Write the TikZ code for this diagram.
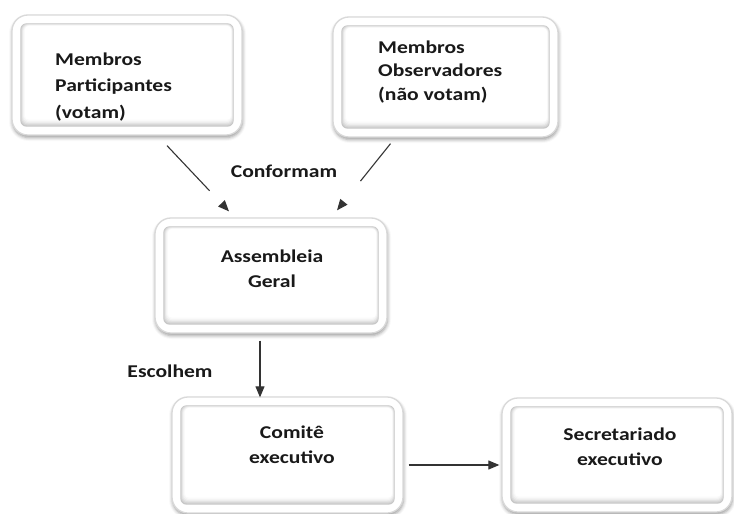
\documentclass[tikz,border=0pt]{standalone}
\usepackage{fontspec}
\setmainfont{Carlito}[FakeStretch=1.2]
\usetikzlibrary{arrows.meta,shadows.blur}

\tikzset{
  boxouter/.style={draw=gray!30, line width=1.3pt, fill=white, rounded corners=16pt,
    inner sep=0pt,
    blur shadow={shadow xshift=0.5pt, shadow yshift=-2.5pt, shadow blur radius=3.5pt, shadow opacity=40}},
  lbl/.style={inner sep=0pt, text=black!90, font=\bfseries},
  conn/.style={draw=black!80, line width=1.1pt, -{Triangle[length=11pt,width=9pt]}},
}

% rounded bevelled box: name, centre, width, height
\newcommand\bevelbox[4]{%
  \node[boxouter, minimum width=#3, minimum height=#4] (#1) at #2 {};
  \foreach \k/\c in {0/45,1/34,2/24,3/16,4/9,5/4}{%
    \fill[gray!\c, rounded corners=6pt]
      ([shift={({9+\k*0.7},{9+\k*0.4})}]#1.north west) rectangle
      ([shift={({-9-\k*0.4},{-9-\k*1.1})}]#1.south east);
  }
  \fill[white, rounded corners=4pt]
    ([shift={(13.5,11.5)}]#1.north west) rectangle ([shift={(-11.5,-16)}]#1.south east);
}

\begin{document}
\begin{tikzpicture}[x=1pt, y=-1pt]
  \useasboundingbox (0,0) rectangle (734,514);

  % boxes
  \bevelbox{P}{(127,75)}{230pt}{120pt}
  \bevelbox{O}{(445.5,77)}{225pt}{120pt}
  \bevelbox{A}{(271,275.5)}{232pt}{115pt}
  \bevelbox{C}{(287.5,455)}{231pt}{116pt}
  \bevelbox{S}{(617,455)}{230pt}{114pt}

  % box texts
  \node[lbl, anchor=base west] (tP) at (55,65)
    {\fontsize{18}{26.5}\selectfont\begin{tabular}[t]{@{}l@{}}Membros\\Participantes\\(votam)\end{tabular}};
  \node[lbl, anchor=base west] (tO) at (378,53)
    {\fontsize{18}{23.5}\selectfont\begin{tabular}[t]{@{}l@{}}Membros\\Observadores\\(não votam)\end{tabular}};
  \node[lbl, anchor=base] (tA) at (272,262)
    {\fontsize{18}{25}\selectfont\begin{tabular}[t]{@{}c@{}}Assembleia\\Geral\end{tabular}};
  \node[lbl, anchor=base] (tC) at (292,438)
    {\fontsize{18}{25}\selectfont\begin{tabular}[t]{@{}c@{}}Comitê\\executivo\end{tabular}};
  \node[lbl, anchor=base] (tS) at (620,440)
    {\fontsize{18}{25}\selectfont\begin{tabular}[t]{@{}c@{}}Secretariado\\executivo\end{tabular}};

  % connector labels
  \node[lbl, anchor=base] (lConf) at (284,177) {\fontsize{18}{22}\selectfont Conformam};
  \node[lbl, anchor=base] (lEsc) at (170,377) {\fontsize{18}{22}\selectfont Escolhem};

  % connectors
  \draw[conn, dash pattern=on 62pt off 60pt]
    ([shift={(40,10)}]P.south) -- ([shift={(-42,-6)}]A.north);
  \draw[conn, dash pattern=on 48pt off 60pt]
    ([shift={(-55,6)}]O.south) -- ([shift={(66,-7)}]A.north);
  \draw[conn] ([shift={(-11,7)}]A.south) -- ([shift={(-27.5,1)}]C.north);
  \draw[conn] ([shift={(5,10)}]C.east) -- ([shift={(-2,10)}]S.west);
\end{tikzpicture}
\end{document}
